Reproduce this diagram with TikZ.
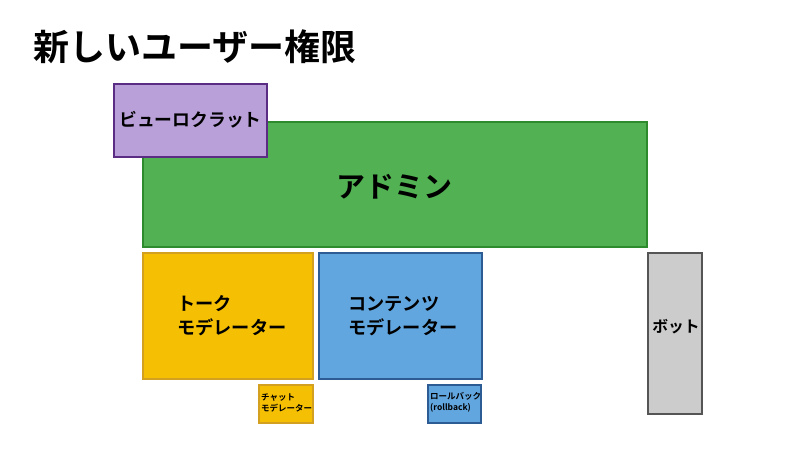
\documentclass[tikz,border=0pt]{standalone}
\usepackage{fontspec}
\setmainfont{Noto Sans CJK JP}[BoldFont={* Bold}]
\definecolor{purp}{HTML}{B9A0D9}\definecolor{purpd}{HTML}{5B2C83}
\definecolor{grn}{HTML}{52B152}\definecolor{grnd}{HTML}{2D8A2D}
\definecolor{yel}{HTML}{F5C004}\definecolor{yeld}{HTML}{D4A020}
\definecolor{blu}{HTML}{62A6E0}\definecolor{blud}{HTML}{2D5C94}
\definecolor{gry}{HTML}{CCCCCC}\definecolor{gryd}{HTML}{555555}
\begin{document}
\begin{tikzpicture}[x=1pt,y=-1pt,
  box/.style={line width=1.2pt},
  lbl/.style={font=\bfseries, align=left, inner sep=0pt}]
\useasboundingbox (0,0) rectangle (791,466);
\node[lbl, anchor=west, font=\bfseries\fontsize{36}{40}\selectfont] (title) at (33,47) {新しいユーザー権限};
\draw[box, fill=grn, draw=grnd] (143,122) rectangle (647,247);
\node[lbl, font=\bfseries\fontsize{29}{32}\selectfont] (admin) at (394,187) {アドミン};
\draw[box, fill=purp, draw=purpd] (114,84) rectangle (267,157);
\node[lbl, font=\bfseries\fontsize{17.8}{20}\selectfont] (bur) at (190.5,120) {ビューロクラット};
\draw[box, fill=yel, draw=yeld] (143,253) rectangle (313,379);
\node[lbl, anchor=west, font=\bfseries\fontsize{18.2}{24}\selectfont] (talk) at (177,316) {トーク\\モデレーター};
\draw[box, fill=blu, draw=blud] (319,253) rectangle (482,379);
\node[lbl, anchor=west, font=\bfseries\fontsize{18.2}{24}\selectfont] (cont) at (348,316) {コンテンツ\\モデレーター};
\draw[box, fill=gry, draw=gryd] (648,253) rectangle (702,414);
\node[lbl, font=\bfseries\fontsize{15.8}{18}\selectfont] (bot) at (676,327) {ボット};
\draw[box, fill=yel, draw=yeld] (259,385) rectangle (313,423);
\node[lbl, anchor=west, font=\bfseries\fontsize{8.5}{11}\selectfont] (chat) at (261,403) {チャット\\モデレーター};
\draw[box, fill=blu, draw=blud] (428,385) rectangle (481,423);
\node[lbl, anchor=west, font=\bfseries\fontsize{8.5}{11}\selectfont] (rb) at (430,402) {ロールバック\\(rollback)};
\end{tikzpicture}
\end{document}
